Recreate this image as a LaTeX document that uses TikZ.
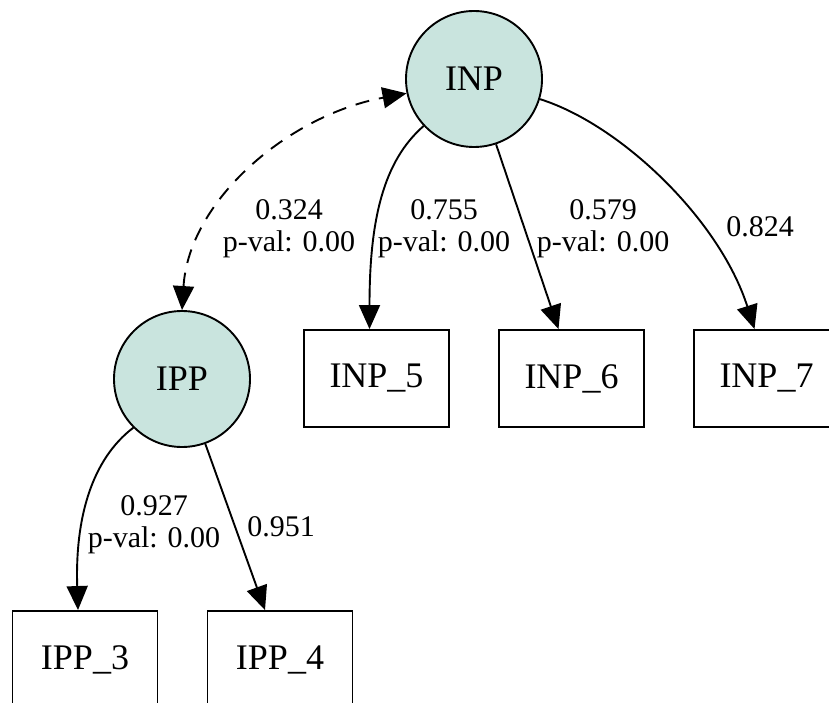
\documentclass[tikz,border=0pt]{standalone}
\usepackage{fontspec}
\setmainfont{Liberation Serif}
\usetikzlibrary{arrows.meta}
\definecolor{latentfill}{RGB}{201,228,222}
\tikzset{
  latent/.style={circle, draw, line width=1.9pt, fill=latentfill, minimum size=136pt, inner sep=0pt, font=\fontsize{36}{40}\selectfont},
  obsbox/.style={rectangle, draw, line width=1.9pt, minimum width=145pt, minimum height=97pt, inner sep=0pt, font=\fontsize{36}{40}\selectfont},
  edgelab/.style={align=center, inner sep=0pt, font=\fontsize{30}{32}\selectfont},
  loading/.style={line width=1.9pt, -{Triangle[length=24pt,width=21pt]}},
  covar/.style={line width=1.9pt, dash pattern=on 14pt off 10pt, {Triangle[length=24pt,width=21pt]}-{Triangle[length=24pt,width=21pt]}}
}
\begin{document}
\begin{tikzpicture}[x=1pt, y=-1pt]
  \useasboundingbox (0,0) rectangle (829,703);
  \clip (0,0) rectangle (829,703);

  % latent factors
  \node[latent] (INP) at (474,79) {INP};
  \node[latent] (IPP) at (182,379) {IPP};

  % indicators
  \node[obsbox] (INP5) at (376.5,378.5) {INP\_5};
  \node[obsbox] (INP6) at (571.5,378.5) {INP\_6};
  \node[obsbox] (INP7) at (766.5,378.5) {INP\_7};
  \node[obsbox] (IPP3) at (85,659.5) {IPP\_3};
  \node[obsbox] (IPP4) at (280,659.5) {IPP\_4};

  % factor covariance
  \draw[covar] (IPP.north) .. controls +(7,-110) and +(-118,22) .. (INP.192);

  % loadings
  \draw[loading] (INP.223) .. controls +(-40,35) and +(0,-110) .. ([xshift=-7pt]INP5.north);
  \draw[loading] (INP) -- ([xshift=-13pt]INP6.north);
  \draw[loading] (INP.-17) .. controls +(80,25) and +(-35,-110) .. ([xshift=-12pt]INP7.north);
  \draw[loading] (IPP.225) .. controls +(-42,32) and +(-3,-91) .. ([xshift=-7pt]IPP3.north);
  \draw[loading] (IPP) -- ([xshift=-15pt]IPP4.north);

  % edge labels
  \node[edgelab] (l324) at (289,229) {0.324\\p-val: 0.00};
  \node[edgelab] (l755) at (444,229) {0.755\\p-val: 0.00};
  \node[edgelab] (l579) at (603,229) {0.579\\p-val: 0.00};
  \node[edgelab] (l824) at (760,227) {0.824};
  \node[edgelab] (l927) at (154,525) {0.927\\p-val: 0.00};
  \node[edgelab] (l951) at (281,527) {0.951};
\end{tikzpicture}
\end{document}
